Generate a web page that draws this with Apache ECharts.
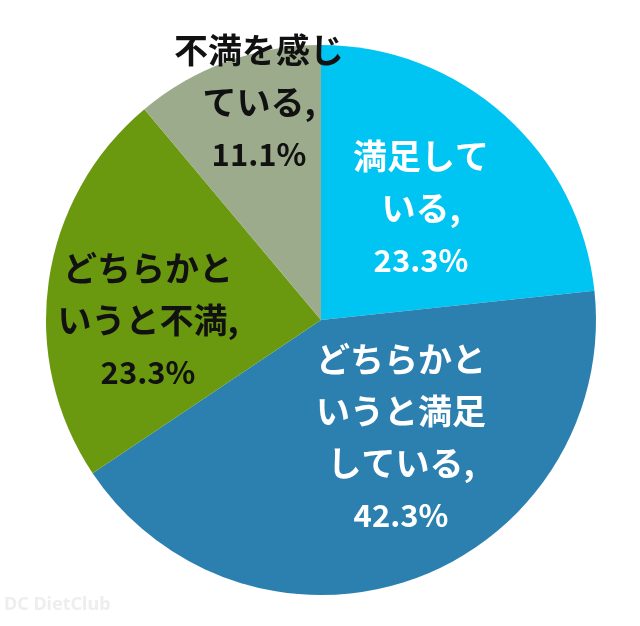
<!DOCTYPE html>
<html>
<head>
<meta charset="utf-8">
<script src="https://cdn.jsdelivr.net/npm/echarts@6/dist/echarts.min.js"></script>
<style>
  html, body { margin: 0; padding: 0; background: #fff; }
  #chart { width: 640px; height: 626px; }
</style>
</head>
<body>
<div id="chart"></div>
<script>
// categories and values
const categories = ['満足している', 'どちらかというと満足している', 'どちらかというと不満', '不満を感じている'];
const values = [23.3, 42.3, 23.3, 11.1];
// how each label is broken into lines
const labelLines = [['満足して', 'いる,'], ['どちらかと', 'いうと満足', 'している,'], ['どちらかと', 'いうと不満,'], ['不満を感じ', 'ている,']];

const colors = ['#00C5F3', '#2C80B0', '#6A9910', '#9CAB8C'];
const textColors = ['#ffffff', '#ffffff', '#111111', '#111111'];
// label centres (px)
const labelPos = [[421, 208], [401, 437], [148, 320], [259, 102]];

const chart = echarts.init(document.getElementById('chart'));

const data = categories.map((name, i) => ({
  name: name,
  value: values[i],
  itemStyle: { color: colors[i] },
  label: { color: textColors[i] },
}));

chart.setOption({
  backgroundColor: '#ffffff',
  animation: false,
  graphic: [{
    type: 'text',
    left: 4,
    top: 596,
    style: { text: 'DC DietClub', fill: '#eeeeee', font: 'bold 18px "Noto Sans"' },
  }],
  series: [{
    type: 'pie',
    center: [321, 320],
    radius: 275,
    startAngle: 90,
    clockwise: true,
    data: data,
    itemStyle: { borderWidth: 0 },
    label: {
      show: true,
      position: 'inside',
      fontFamily: '"Noto Sans CJK JP", sans-serif',
      fontWeight: 'bold',
      fontSize: 28,
      lineHeight: 52,
      align: 'center',
      formatter: (p) => labelLines[p.dataIndex].map((s) => '{jp|' + s + '}').join('\n') +
        '\n{num|' + p.value.toFixed(1) + '%}',
      rich: {
        jp: { fontSize: 34, lineHeight: 52, fontWeight: 'bold', fontFamily: '"Noto Sans CJK JP", sans-serif' },
        num: { fontSize: 31, lineHeight: 52, fontWeight: 'bold', fontFamily: '"Noto Sans CJK JP", sans-serif' },
      },
    },
    labelLayout: (params) => ({
      x: labelPos[params.dataIndex][0],
      y: labelPos[params.dataIndex][1],
      align: 'center',
      verticalAlign: 'middle',
    }),
    emphasis: { disabled: true },
  }],
});
</script>
</body>
</html>
